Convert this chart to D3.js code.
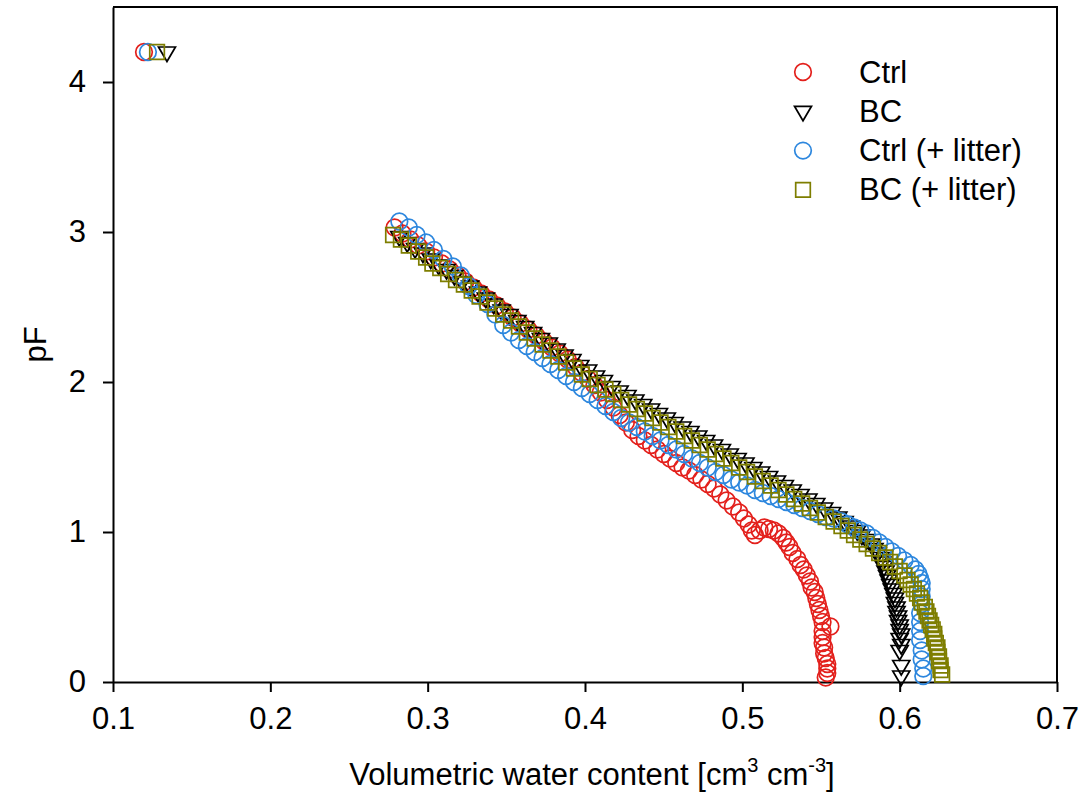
<!DOCTYPE html>
<html>
<head>
<meta charset="utf-8">
<script src="https://d3js.org/d3.v7.min.js"></script>
<style>
      body { margin: 0; background: #fff; }
      text { font-family: Arial, 'Liberation Sans', sans-serif; fill: #000; }
</style>
</head>
<body>
<div id="chart"></div>
<script>
// Water retention data: [theta (cm3/cm3), pF]
var ctrl = [
      [0.1197, 4.2],
      [0.279, 3.03], [0.284, 2.99], [0.289, 2.95], [0.294, 2.91], [0.299, 2.87], [0.304, 2.83], [0.309, 2.79],
      [0.314, 2.75], [0.319, 2.71], [0.324, 2.67], [0.329, 2.63], [0.334, 2.59], [0.339, 2.55], [0.344, 2.51],
      [0.349, 2.47], [0.354, 2.43], [0.359, 2.39], [0.364, 2.35], [0.369, 2.31], [0.374, 2.27], [0.379, 2.23],
      [0.384, 2.19], [0.389, 2.15], [0.394, 2.10], [0.398, 2.06], [0.402, 2.02], [0.406, 1.98], [0.410, 1.93],
      [0.414, 1.88], [0.418, 1.83], [0.422, 1.78], [0.426, 1.73], [0.430, 1.68], [0.434, 1.64], [0.438, 1.61],
      [0.442, 1.58], [0.446, 1.55], [0.450, 1.52], [0.454, 1.49], [0.458, 1.46], [0.462, 1.43], [0.466, 1.41],
      [0.470, 1.38], [0.474, 1.35], [0.478, 1.32], [0.482, 1.29], [0.486, 1.25], [0.490, 1.21], [0.494, 1.17],
      [0.498, 1.13], [0.501, 1.09], [0.504, 1.05], [0.506, 1.01], [0.508, 0.98], [0.511, 1.01], [0.514, 1.03],
      [0.517, 1.02], [0.520, 1.01], [0.523, 0.99], [0.526, 0.96], [0.528, 0.93], [0.530, 0.90], [0.532, 0.86],
      [0.535, 0.82], [0.537, 0.78], [0.539, 0.75], [0.541, 0.71], [0.543, 0.67], [0.544, 0.63], [0.546, 0.60],
      [0.547, 0.56], [0.548, 0.52], [0.549, 0.48], [0.550, 0.44], [0.551, 0.40], [0.556, 0.37], [0.551, 0.34],
      [0.551, 0.30], [0.551, 0.26], [0.552, 0.23], [0.552, 0.19], [0.553, 0.16], [0.554, 0.12], [0.554, 0.09],
      [0.554, 0.06], [0.553, 0.03]
]

var bc = [
      [0.1343, 4.2],
      [0.282, 2.97], [0.287, 2.93], [0.292, 2.89], [0.297, 2.86], [0.302, 2.82], [0.307, 2.78], [0.312, 2.75],
      [0.317, 2.71], [0.322, 2.67], [0.327, 2.64], [0.332, 2.60], [0.337, 2.56], [0.342, 2.52], [0.347, 2.48],
      [0.352, 2.45], [0.357, 2.41], [0.362, 2.37], [0.367, 2.33], [0.372, 2.29], [0.377, 2.26], [0.382, 2.22],
      [0.387, 2.18], [0.392, 2.15], [0.397, 2.11], [0.402, 2.08], [0.407, 2.04], [0.412, 2.01], [0.417, 1.97],
      [0.422, 1.94], [0.427, 1.91], [0.432, 1.88], [0.437, 1.85], [0.442, 1.82], [0.447, 1.79], [0.452, 1.76],
      [0.457, 1.73], [0.462, 1.70], [0.467, 1.67], [0.472, 1.64], [0.477, 1.61], [0.482, 1.58], [0.487, 1.55],
      [0.492, 1.52], [0.497, 1.49], [0.502, 1.46], [0.507, 1.43], [0.512, 1.40], [0.517, 1.37], [0.522, 1.34],
      [0.527, 1.31], [0.532, 1.28], [0.537, 1.25], [0.542, 1.22], [0.547, 1.19], [0.552, 1.16], [0.557, 1.13],
      [0.561, 1.10], [0.565, 1.07], [0.569, 1.04], [0.573, 1.01], [0.576, 0.98], [0.579, 0.95], [0.582, 0.92],
      [0.584, 0.89], [0.586, 0.86], [0.588, 0.83], [0.589, 0.80], [0.590, 0.77], [0.591, 0.74], [0.592, 0.71],
      [0.593, 0.68], [0.594, 0.65], [0.595, 0.62], [0.596, 0.59], [0.597, 0.56], [0.597, 0.53], [0.598, 0.50],
      [0.598, 0.47], [0.599, 0.44], [0.599, 0.41], [0.600, 0.38], [0.600, 0.35], [0.601, 0.32], [0.600, 0.29],
      [0.601, 0.25], [0.600, 0.21], [0.601, 0.11], [0.601, 0.04]
]

var ctrlLitter = [
      [0.1222, 4.2],
      [0.282, 3.07], [0.288, 3.03], [0.293, 2.98], [0.299, 2.93], [0.304, 2.88], [0.310, 2.82], [0.316, 2.77],
      [0.321, 2.71], [0.326, 2.64], [0.331, 2.58], [0.338, 2.52], [0.343, 2.45], [0.348, 2.38], [0.353, 2.33],
      [0.358, 2.28], [0.363, 2.24], [0.368, 2.20], [0.373, 2.16], [0.378, 2.12], [0.383, 2.08], [0.388, 2.04],
      [0.393, 2.00], [0.398, 1.96], [0.403, 1.92], [0.408, 1.88], [0.413, 1.84], [0.418, 1.80], [0.423, 1.76],
      [0.428, 1.73], [0.433, 1.70], [0.438, 1.67], [0.443, 1.64], [0.448, 1.61], [0.453, 1.58], [0.458, 1.55],
      [0.463, 1.52], [0.468, 1.49], [0.473, 1.46], [0.478, 1.43], [0.483, 1.40], [0.488, 1.38], [0.493, 1.35],
      [0.498, 1.33], [0.503, 1.31], [0.508, 1.28], [0.513, 1.26], [0.518, 1.24], [0.523, 1.22], [0.528, 1.20],
      [0.533, 1.18], [0.538, 1.16], [0.543, 1.14], [0.548, 1.12], [0.553, 1.10], [0.558, 1.09], [0.563, 1.07],
      [0.567, 1.05], [0.571, 1.03], [0.575, 1.01], [0.579, 0.99], [0.583, 0.96], [0.587, 0.93], [0.591, 0.90],
      [0.595, 0.87], [0.599, 0.84], [0.603, 0.81], [0.607, 0.78], [0.610, 0.75], [0.612, 0.72], [0.613, 0.69],
      [0.614, 0.66], [0.614, 0.62], [0.614, 0.57], [0.614, 0.52], [0.613, 0.46], [0.613, 0.40], [0.613, 0.34],
      [0.613, 0.28], [0.614, 0.21], [0.614, 0.15], [0.615, 0.09], [0.615, 0.04]
]

var bcLitter = [
      [0.1280, 4.2],
      [0.278, 2.98], [0.283, 2.95], [0.288, 2.91], [0.294, 2.87], [0.299, 2.83], [0.303, 2.79], [0.308, 2.76],
      [0.313, 2.72], [0.318, 2.68], [0.323, 2.65], [0.328, 2.61], [0.333, 2.57], [0.338, 2.53], [0.343, 2.49],
      [0.348, 2.45], [0.353, 2.41], [0.358, 2.37], [0.363, 2.33], [0.368, 2.29], [0.373, 2.25], [0.378, 2.21],
      [0.383, 2.17], [0.388, 2.13], [0.393, 2.09], [0.398, 2.05], [0.403, 2.02], [0.408, 1.98], [0.413, 1.95],
      [0.418, 1.92], [0.423, 1.88], [0.428, 1.85], [0.433, 1.82], [0.438, 1.79], [0.443, 1.76], [0.448, 1.73],
      [0.453, 1.70], [0.458, 1.67], [0.463, 1.64], [0.468, 1.61], [0.473, 1.58], [0.478, 1.55], [0.483, 1.52],
      [0.488, 1.49], [0.493, 1.46], [0.498, 1.43], [0.503, 1.40], [0.508, 1.37], [0.513, 1.34], [0.518, 1.31],
      [0.523, 1.28], [0.528, 1.25], [0.533, 1.22], [0.538, 1.19], [0.543, 1.16], [0.548, 1.13], [0.553, 1.10],
      [0.558, 1.07], [0.563, 1.04], [0.567, 1.01], [0.571, 0.98], [0.575, 0.95], [0.579, 0.92], [0.583, 0.89],
      [0.587, 0.86], [0.591, 0.83], [0.594, 0.80], [0.597, 0.77], [0.600, 0.74], [0.603, 0.71], [0.605, 0.68],
      [0.607, 0.65], [0.609, 0.62], [0.611, 0.59], [0.613, 0.56], [0.614, 0.53], [0.616, 0.50], [0.617, 0.47],
      [0.618, 0.44], [0.619, 0.41], [0.620, 0.38], [0.621, 0.35], [0.622, 0.32], [0.622, 0.29], [0.623, 0.26],
      [0.624, 0.23], [0.624, 0.20], [0.625, 0.17], [0.625, 0.14], [0.626, 0.11], [0.626, 0.08], [0.627, 0.05]
]

var seriesNames = ['Ctrl', 'BC', 'Ctrl (+ litter)', 'BC (+ litter)']
var seriesData = [ctrl, bc, ctrlLitter, bcLitter]
var seriesShapes = ['circle', 'triangle', 'circle', 'square']
var seriesColors = ['#e3201c', '#000000', '#2d87de', '#7e7e00']

var xTicks = [0.1, 0.2, 0.3, 0.4, 0.5, 0.6, 0.7]
var yTicks = [0, 1, 2, 3, 4]

// Set up svg parameters
var svgWidth = 1090
var svgHeight = 798
var fontSize = '31px'

var plot = { left: 113, right: 1057, top: 7, bottom: 682 }

var svg = d3.select('#chart')
      .append('svg')
      .attr('width', svgWidth)
      .attr('height', svgHeight)

var xScale = d3.scaleLinear()
      .domain([0.1, 0.7])
      .range([plot.left, plot.right])

var yScale = d3.scaleLinear()
      .domain([0, 4.5])
      .range([plot.bottom, plot.top])

// marker path centred on 0,0
function markerPath(shape) {
      if (shape === 'circle') {
            var r = 8.3
            return `M${-r},0A${r},${r} 0 1,0 ${r},0A${r},${r} 0 1,0 ${-r},0Z`
      }
      if (shape === 'triangle') {
            return 'M-8.5,-5L8.5,-5L0,9.5Z'
      }
      return 'M-7.3,-7.3L7.3,-7.3L7.3,7.3L-7.3,7.3Z'
}

// Frame (top and right lines)
svg.append('path')
      .attr('d', `M${plot.left},${plot.top}H${plot.right}V${plot.bottom}`)
      .attr('fill', 'none')
      .attr('stroke', '#000')
      .attr('stroke-width', 2)

// Axes
var bottomAxis = d3.axisBottom(xScale)
      .tickValues(xTicks)
      .tickFormat(d3.format('.1f'))
      .tickSizeInner(10)
      .tickSizeOuter(0)
      .tickPadding(15)

var leftAxis = d3.axisLeft(yScale)
      .tickValues(yTicks)
      .tickFormat(d3.format('d'))
      .tickSizeInner(10)
      .tickSizeOuter(0)
      .tickPadding(17)

var xAxisG = svg.append('g')
      .attr('transform', `translate(0, ${plot.bottom})`)
      .call(bottomAxis)

var yAxisG = svg.append('g')
      .attr('transform', `translate(${plot.left}, 0)`)
      .call(leftAxis)

;[xAxisG, yAxisG].forEach(g => {
      g.select('.domain').attr('stroke-width', 2)
      g.selectAll('.tick line').attr('stroke-width', 2)
      g.selectAll('.tick text')
            .style('font-size', fontSize)
            .style('font-family', "Arial, 'Liberation Sans', sans-serif")
})

// Points
var pointsGroup = svg.append('g')

seriesData.forEach((data, i) => {
      pointsGroup.append('g')
            .selectAll('path')
            .data(data)
            .enter()
            .append('path')
            .attr('d', markerPath(seriesShapes[i]))
            .attr('transform', d => `translate(${xScale(d[0])}, ${yScale(d[1])})`)
            .attr('fill', 'none')
            .attr('stroke', seriesColors[i])
            .attr('stroke-width', 1.7)
})

// Legend
var legend = svg.append('g')
      .attr('transform', 'translate(803, 72)')

seriesNames.forEach((name, i) => {
      var row = legend.append('g')
            .attr('transform', `translate(0, ${i * 39.3})`)
      row.append('path')
            .attr('d', markerPath(seriesShapes[i]))
            .attr('fill', 'none')
            .attr('stroke', seriesColors[i])
            .attr('stroke-width', 1.7)
      row.append('text')
            .attr('x', 56)
            .attr('y', 10.5)
            .style('font-size', fontSize)
            .text(name)
})

// Axis labels
var xLabel = svg.append('text')
      .attr('x', (plot.left + plot.right) / 2 + 7)
      .attr('y', 785)
      .style('text-anchor', 'middle')
      .style('font-size', fontSize)

xLabel.append('tspan').text('Volumetric water content [cm')
xLabel.append('tspan').attr('dy', -13).style('font-size', '20px').text('3')
xLabel.append('tspan').attr('dy', 13).text(' cm')
xLabel.append('tspan').attr('dy', -13).style('font-size', '20px').text('-3')
xLabel.append('tspan').attr('dy', 13).text(']')

svg.append('text')
      .attr('transform', `translate(46, ${(plot.top + plot.bottom) / 2}) rotate(-90)`)
      .style('text-anchor', 'middle')
      .style('font-size', fontSize)
      .text('pF')
</script>
</body>
</html>
